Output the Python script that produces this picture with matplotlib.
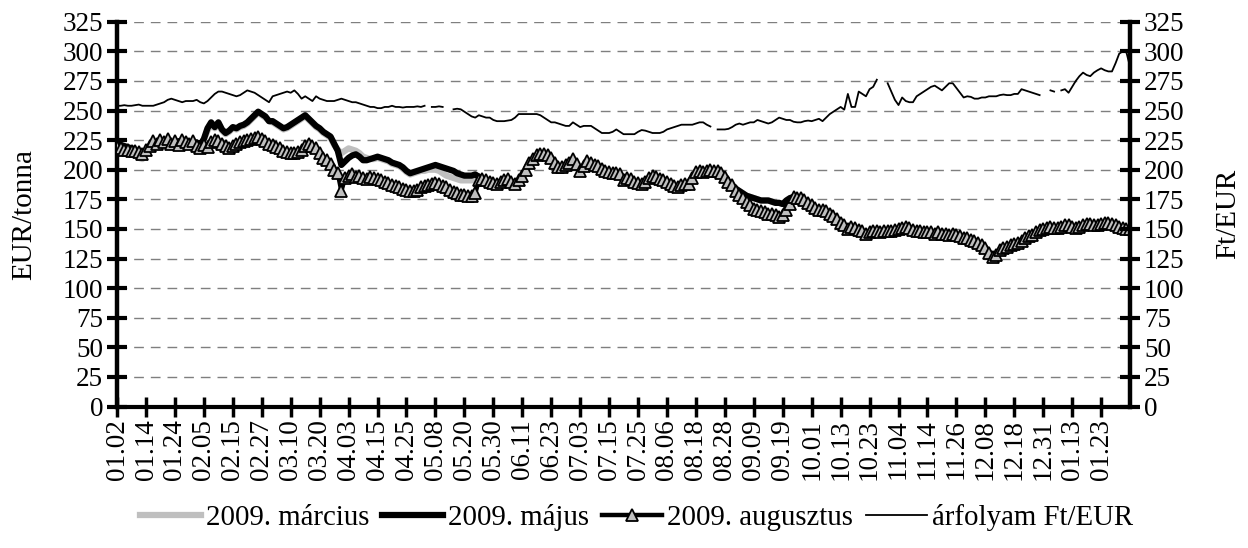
import numpy as np
import matplotlib.pyplot as plt

plt.rcParams['font.family'] = ['Liberation Serif', 'DejaVu Serif']
plt.rcParams['font.size'] = 19.5

nan = np.nan

# Tick labels (every 8th trading day)
tick_labels = ['01.02', '01.14', '01.24', '02.05', '02.15', '02.27', '03.10', '03.20',
               '04.03', '04.15', '04.25', '05.08', '05.20', '05.30', '06.11', '06.23',
               '07.03', '07.15', '07.25', '08.06', '08.18', '08.28', '09.09', '09.19',
               '10.01', '10.13', '10.23', '11.04', '11.14', '11.26', '12.08', '12.18',
               '12.31', '01.13', '01.23']

# EUR/tonna series
majus = [222, 221, 220, 219, 218, 217, 214, 212, 216, 219, 221, 222,
         223, 222, 224, 223, 222, 224, 223, 222, 223, 222, 223,
         221, 226, 235, 240, 236, 240, 234, 231, 233, 236, 235, 237,
         238, 240, 243, 246, 249, 247, 245, 241, 241, 239, 237, 235,
         236, 238, 240, 242, 244, 246, 243, 240, 237, 235, 232, 230,
         228, 222, 216, 204, 207, 210, 212, 213, 211, 208, 208,
         209, 210, 211, 210, 209, 208, 206, 205, 204, 202, 199, 197,
         198, 199, 200, 201, 202, 203, 204, 203, 202, 201, 200, 199,
         197, 196, 195, 195, 195, 196, 194, 192, 191, 190, 189,
         188, 190, 191, 192, 190, 188, 191, 195, 200, 206, 209, 212,
         213, 213, 212, 210, 206, 202, 202, 204, 206, 209, 205, 199,
         203, 207, 206, 204, 203, 201, 199, 198, 197, 197, 196,
         191, 193, 192, 190, 189, 188, 190, 193, 195, 194, 192, 191,
         190, 188, 186, 185, 187, 188, 188, 193, 198, 199, 198, 199,
         200, 199, 199, 197, 194, 190, 187, 184, 182, 180, 178, 177,
         176, 175, 174, 174, 174, 173, 172, 172, 171, 174, 176,
         177, 176, 176, 174, 172, 170, 168, 166, 166, 165, 163, 161,
         158, 155, 153, 150, 152, 151, 149, 148, 146, 147, 148, 148,
         147, 148, 148, 148, 149, 150, 151, 152, 151, 149, 148,
         148, 147, 147, 147, 146, 147, 146, 146, 145, 146, 145, 144,
         142, 142, 141, 140, 138, 136, 134, 130, 126, 128, 132, 134,
         135, 136, 137, 138, 140, 142, 144, 145, 147, 149, 150, 151,
         152, 151, 151, 152, 153, 153, 152, 151, 152, 153, 154,
         154, 153, 153, 154, 155, 155, 154, 153, 152, 151, 150, 150]

marcius = [218, 217, 216, 215, 214, 212, 210, 209, 213, 217, 219, 221,
           223, 222, 224, 223, 222, 224, 223, 222, 223, 222, 223,
           221, 225, 233, 238, 235, 238, 233, 230, 232, 235, 234, 236,
           237, 239, 242, 245, 248, 246, 244, 241, 240, 238, 236, 234,
           235, 237, 239, 241, 243, 245, 242, 239, 236, 234, 231, 229,
           227, 221, 217, 214, 216, 218, 217, 216, 214, 211, 210,
           209, 209, 210, 209, 208, 207, 205, 204, 203, 201, 198, 196,
           197, 198, 199, 199, 200, 200, 200, 199, 197, 195, 194, 193,
           192, 191, 191, 191, 191, 192, 192, 191, 190, 190, 189,
           188, 190, 191, 192, 190, 188, 191, 195, 200, 206, 209, 212,
           213, 213, 212, 210, 206, 202, 202, 204, 206, 209, 205, 199,
           203, 207, 206, 204, 203, 201, 199, 198, 197, 197, 196,
           191, 193, 192, 190, 189, 188, 190, 193, 195, 194, 192, 191,
           190, 188, 186, 185, 187, 188, 188, 193, 198, 199, 198, 199,
           200, 199, 199, 197, 194, 190, 187, 184, 182, 180, 178, 177,
           176, 175, 174, 174, 174, 173, 172, 172, 171, 174, 176,
           177, 176, 176, 174, 172, 170, 168, 166, 166, 165, 163, 161,
           158, 155, 153, 150, 152, 151, 149, 148, 146, 147, 148, 148,
           147, 148, 148, 148, 149, 150, 151, 152, 151, 149, 148,
           148, 147, 147, 147, 146, 147, 146, 146, 145, 146, 145, 144,
           142, 142, 141, 140, 138, 136, 134, 130, 126, 128, 132, 134,
           135, 136, 137, 138, 140, 142, 144, 145, 147, 149, 150, 151,
           152, 151, 151, 152, 153, 153, 152, 151, 152, 153, 154,
           154, 153, 153, 154, 155, 155, 154, 153, 152, 151, 150, 150]

augusztus = [219, 218, 217, 217, 216, 216, 215, 213, 217, 220, 224, 222,
             225, 223, 226, 222, 224, 221, 225, 223, 222, 224, 220,
             218, 221, 219, 223, 225, 224, 222, 220, 218, 220, 222, 223,
             224, 225, 226, 227, 228, 226, 224, 222, 221, 219, 218, 216,
             215, 214, 214, 215, 217, 220, 222, 220, 218, 214, 210, 208,
             205, 200, 197, 182, 193, 195, 196, 194, 195, 193, 192,
             194, 193, 192, 191, 190, 189, 187, 186, 185, 184, 183, 182,
             182, 183, 185, 186, 187, 188, 189, 188, 186, 185, 183, 181,
             180, 179, 179, 178, 178, 180, 191, 192, 191, 190, 189,
             188, 190, 191, 192, 190, 188, 191, 195, 200, 206, 209, 212,
             213, 213, 212, 210, 206, 202, 202, 204, 206, 209, 205, 199,
             203, 207, 206, 204, 203, 201, 199, 198, 197, 197, 196,
             191, 193, 192, 190, 189, 188, 190, 193, 195, 194, 192, 191,
             190, 188, 186, 185, 187, 188, 188, 193, 198, 199, 198, 199,
             200, 199, 199, 197, 194, 190, 187, 182, 179, 176, 173, 170,
             167, 166, 165, 164, 163, 163, 162, 160, 162, 166, 171,
             177, 176, 176, 174, 172, 170, 168, 166, 166, 165, 163, 161,
             158, 155, 153, 150, 152, 151, 149, 148, 146, 147, 148, 148,
             147, 148, 148, 148, 149, 150, 151, 152, 151, 149, 148,
             148, 147, 147, 147, 146, 147, 146, 146, 145, 146, 145, 144,
             142, 142, 141, 140, 138, 136, 134, 130, 126, 128, 132, 134,
             135, 136, 137, 138, 140, 142, 144, 145, 147, 149, 150, 151,
             152, 151, 151, 152, 153, 153, 152, 151, 152, 153, 154,
             154, 153, 153, 154, 155, 155, 154, 153, 152, 151, 150, 150]

# Ft/EUR exchange rate (gaps = missing days)
arfolyam = [254, 254, 254.5, 254, 254, 254.5, 255, 254, 254, 254, 254, 255,
            256, 257, 259, 260, 259, 258, 257, 258, 258, 258, 259,
            257, 256, 258, 261, 264, 266, 266, 265, 264, 263, 262, 263,
            265, 267, 266, 265, 263, 261, 259, 257, 262, 263, 264, 265,
            266, 265, 267, 264, 260, 262, 260, 258, 262, 260, 259, 258,
            258, 258, 259, 260, 259, 258, 257, 257, 256, 255, 254,
            253, 253, 252, 252, 253, 253, 254, 253, 253, 252.5, 253, 253,
            253, 253.5, 253, 254, nan, 253, 253, 253.5, 253, nan, nan, 251,
            251.5, 251, 249, 247, 245, 244, 246, 245, 244, 244, 242,
            241, 241, 241, 241.5, 242, 244, 247, 247, 247, 247, 247, 247,
            246, 244, 242, 240, 240, 239, 238, 237, 237, 240, 238, 236,
            237, 237, 237, 235, 233, 231, 231, 231, 232, 234, 232,
            230, 230, 230, 230, 232, 233.5, 233, 232, 231, 231, 231, 232,
            234, 235, 236, 237, 238, 238, 238, 238, 239, 240, 240, 238,
            236.5, nan, 234, 234, 234, 234.5, 236, 238, 239, 238, 239, 240,
            240, 242, 241, 240, 239, 240, 242, 244, 243, 242, 242,
            240.5, 240, 240, 241, 241.5, 241, 242, 243, 241, 244, 247, 249,
            251, 253, 250.7, 264, 253, 253, 266, 264, 262, 268, 270, 276,
            nan, nan, 273, 266, 259, 254.6, 261, 258, 257, 257, 262,
            264, 266, 268, 270, 271, 269, 267, 270, 273, 273, 269, 265,
            261, 262, 261.5, 260, 260, 261, 261, 262, 262, 262, 263, 263.5,
            263, 263, 264, 264, 268, 267, 266, 265, 264, 263, nan, nan,
            267, 266, nan, 267, 268, 265, 270, 275, 279, 282, 280,
            279, 282, 284, 285.6, 284, 283, 283, 290, 298, 300, 299, 287]

x = np.arange(len(majus))

fig = plt.figure(figsize=(12.48, 5.48), dpi=100)
ax = fig.add_axes([0.0938, 0.2582, 0.8117, 0.7022])
ax2 = ax.twinx()

# Price series on the left axis
ax.plot(x, marcius, color='#BFBFBF', lw=4.5, solid_joinstyle='round', label='2009. március', zorder=3)
ax.plot(x, majus, color='black', lw=4.5, solid_joinstyle='round', label='2009. május', zorder=4)
ax.plot(x, augusztus, color='black', lw=3.2, marker='^', ms=8.5, mfc='#BFBFBF', mec='black',
        mew=1.3, label='2009. augusztus', zorder=5)

# Exchange rate on the right axis
ax2.plot(x, arfolyam, color='black', lw=1.3, label='árfolyam Ft/EUR')

yticks = list(range(0, 326, 25))
for a in (ax, ax2):
    a.set_ylim(0, 325)
    a.set_yticks(yticks)
    a.set_xlim(0, len(x) - 1)
    for s in a.spines.values():
        s.set_visible(False)

ax.yaxis.grid(True, linestyle=(0, (7, 5)), color='#7f7f7f', lw=1)
ax.set_axisbelow(True)

ax.spines['left'].set_visible(True)
ax.spines['left'].set_linewidth(3.2)
ax.spines['bottom'].set_visible(True)
ax.spines['bottom'].set_linewidth(3)
ax2.spines['right'].set_visible(True)
ax2.spines['right'].set_linewidth(3.2)

ax.set_xticks(x[::8][:len(tick_labels)])
ax.set_xticklabels(tick_labels, rotation=90)
ax.tick_params(axis='x', direction='inout', length=14, width=2.5, pad=2)
ax.tick_params(axis='y', direction='inout', length=14, width=3, pad=3)
ax2.tick_params(axis='y', direction='inout', length=14, width=3, pad=3)

ax.set_ylabel('EUR/tonna', fontsize=21, labelpad=18)
ax2.set_ylabel('Ft/EUR', fontsize=21, labelpad=22)

# Legend at the bottom
h1, l1 = ax.get_legend_handles_labels()
h2, l2 = ax2.get_legend_handles_labels()
fig.legend(h1 + h2, l1 + l2, loc='center', bbox_to_anchor=(0.51, 0.055), ncol=4,
           frameon=False, fontsize=20.8, handlelength=2.1, handletextpad=0.17,
           columnspacing=0.45)

fig.savefig('out.png', dpi=100)
